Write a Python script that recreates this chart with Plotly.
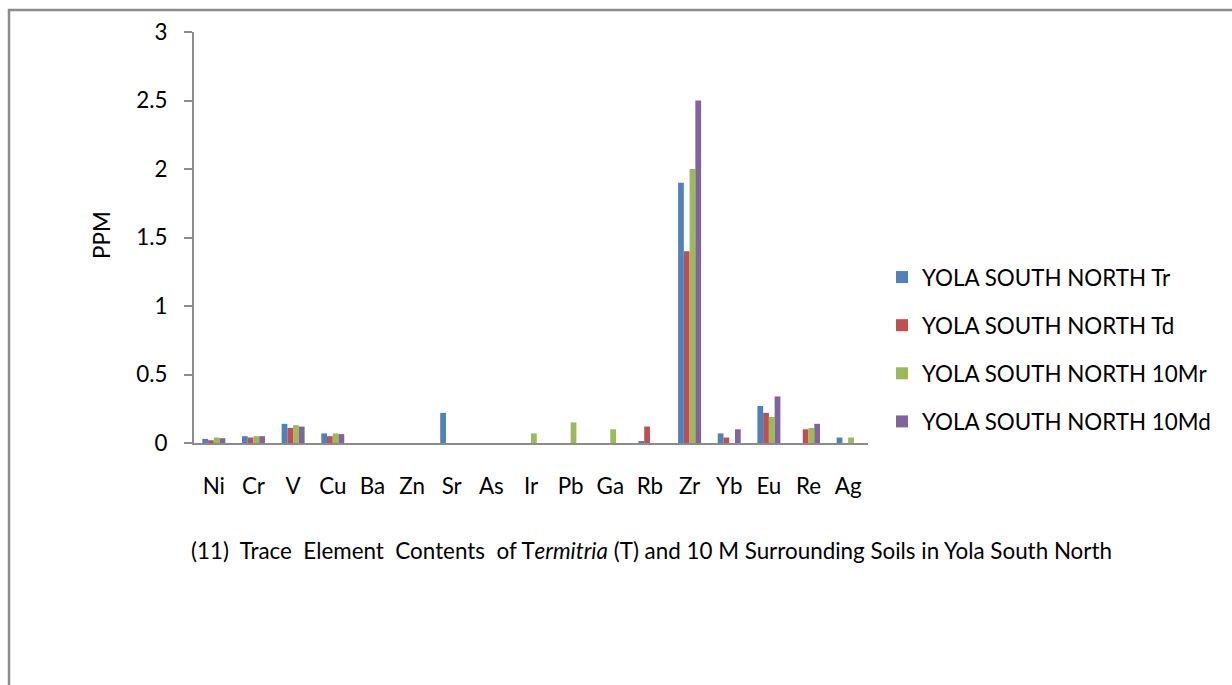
import plotly.graph_objects as go

elements = ["Ni", "Cr", "V", "Cu", "Ba", "Zn", "Sr", "As", "Ir", "Pb", "Ga", "Rb", "Zr", "Yb", "Eu", "Re", "Ag"]
series_names = ["YOLA SOUTH NORTH Tr", "YOLA SOUTH NORTH Td", "YOLA SOUTH NORTH 10Mr", "YOLA SOUTH NORTH 10Md"]
tr_vals = [0.03, 0.05, 0.14, 0.07, 0, 0, 0.22, 0, 0, 0, 0, 0.01, 1.9, 0.07, 0.27, 0, 0.04]
td_vals = [0.02, 0.04, 0.11, 0.05, 0, 0, 0, 0, 0, 0, 0, 0.12, 1.4, 0.04, 0.22, 0.10, 0]
mr_vals = [0.04, 0.05, 0.13, 0.07, 0, 0, 0, 0, 0.07, 0.15, 0.10, 0, 2.0, 0, 0.19, 0.11, 0.04]
md_vals = [0.035, 0.05, 0.12, 0.065, 0, 0, 0, 0, 0, 0, 0, 0, 2.5, 0.10, 0.34, 0.14, 0]
colors = ["#4F81BD", "#C0504D", "#9BBB59", "#8064A2"]

FONT = "Lato"
FS = 22.4
fig = go.Figure()
for i, (name, vals) in enumerate(zip(series_names, [tr_vals, td_vals, mr_vals, md_vals])):
    fig.add_trace(go.Bar(x=elements, y=vals, name=name, legendgroup=f"g{i}",
                         marker=dict(color=colors[i], line=dict(width=0))))

W, H = 1232, 685
L, R, T, B = 194, 868, 32, 443
pw, ph = R - L, B - T

def px(x):
    return (x - L) / pw

def py(y):
    return (B - y) / ph

fig.update_layout(
    width=W, height=H,
    margin=dict(l=L, r=W - R, t=T, b=H - B, pad=0),
    paper_bgcolor="white", plot_bgcolor="white",
    barmode="group", bargap=0.42, bargroupgap=0,
    font=dict(family=FONT, size=FS, color="black"),
    showlegend=True,
    legend=dict(x=px(882), y=py(256), xanchor="left", yanchor="top",
                font=dict(family=FONT, size=FS, color="black"),
                tracegroupgap=16, bgcolor="rgba(0,0,0,0)"),
    xaxis=dict(showline=True, linecolor="#8c8c8c", linewidth=2, ticks="",
               showgrid=False, tickfont=dict(size=FS), ticklabelstandoff=22),
    yaxis=dict(range=[0, 3], dtick=0.5, showline=True, linecolor="#8c8c8c", linewidth=2,
               ticks="outside", ticklen=8, tickcolor="#8c8c8c", tickwidth=1.5,
               showgrid=False, zeroline=False, tickfont=dict(size=FS),
               ticklabelstandoff=12, tickformat="~g"),
    annotations=[
        dict(text="PPM", x=px(102), y=py(235), xref="paper", yref="paper", showarrow=False,
             textangle=-90, font=dict(family=FONT, size=FS), xanchor="center", yanchor="middle"),
        dict(text="(11)  Trace  Element  Contents  of T<i>ermitria</i> (T) and 10 M Surrounding Soils in Yola South North",
             x=px(189), y=py(550), xref="paper", yref="paper", showarrow=False,
             font=dict(family=FONT, size=FS), xanchor="left", yanchor="middle"),
    ],
    shapes=[
        dict(type="path", xref="paper", yref="paper",
             path=f"M {px(9)} {py(690)} L {px(9)} {py(10)} L {px(1240)} {py(10)}",
             line=dict(color="#8c8c8c", width=2.5)),
    ],
)

fig.write_html("out.html")
